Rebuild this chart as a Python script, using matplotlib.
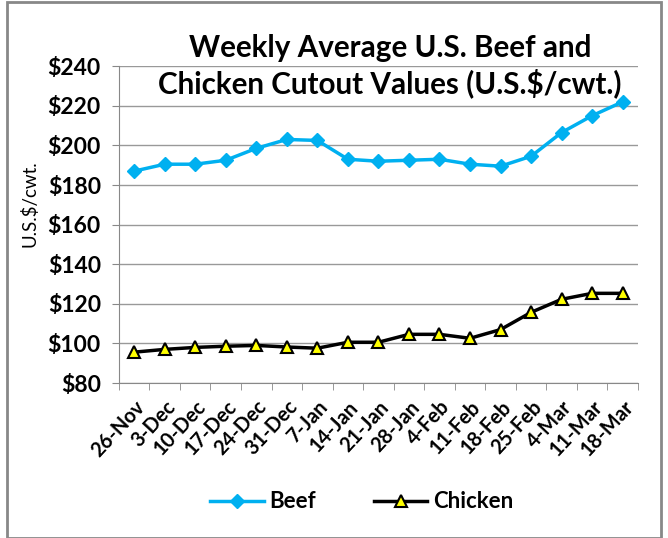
import matplotlib.pyplot as plt
import matplotlib.transforms as mtrans
import numpy as np
from matplotlib.patches import Rectangle

weeks = ["26-Nov", "3-Dec", "10-Dec", "17-Dec", "24-Dec", "31-Dec", "7-Jan",
         "14-Jan", "21-Jan", "28-Jan", "4-Feb", "11-Feb", "18-Feb", "25-Feb",
         "4-Mar", "11-Mar", "18-Mar"]
beef = [187, 190.5, 190.5, 192.5, 198.5, 203, 202.5, 193, 192, 192.5, 193,
        190.5, 189.5, 194.5, 206.5, 215, 222]
chicken = [95.6, 97, 98, 98.6, 99, 98.2, 97.6, 100.6, 100.6, 104.6, 104.6,
           102.6, 107, 115.7, 122.3, 125.3, 125.3]
yticks = [80, 100, 120, 140, 160, 180, 200, 220, 240]

plt.rcParams['font.family'] = ['Lato', 'DejaVu Sans']

fig = plt.figure(figsize=(6.68, 5.38), dpi=100)
ax = fig.add_axes([0.178, 0.288, 0.777, 0.589])

x = np.arange(len(weeks))
ax.plot(x, beef, color='#00B0F0', lw=2.5, marker='D', ms=7, label='Beef')
ax.plot(x, chicken, color='black', lw=2.5, marker='^', ms=9,
        markerfacecolor='#FFFF00', markeredgecolor='black', markeredgewidth=1.5,
        label='Chicken')

ax.set_xlim(-0.5, len(weeks) - 0.5)
ax.set_ylim(80, 240)
ax.set_yticks(yticks)
ax.set_yticklabels(['$%d' % v for v in yticks], fontsize=16.5, fontweight='bold')
ax.set_xticks(x)
ax.set_xticklabels(weeks, rotation=47, ha='right', rotation_mode='anchor',
                   fontsize=14.5, fontweight='bold')
# nudge rotated labels a little to the right, like the original
shift = mtrans.ScaledTranslation(5 / 100, 0, fig.dpi_scale_trans)
for lab in ax.get_xticklabels():
    lab.set_transform(lab.get_transform() + shift)
ax.set_xticks(np.arange(len(weeks) + 1) - 0.5, minor=True)
ax.tick_params(axis='x', which='major', length=0, pad=10)
ax.tick_params(axis='x', which='minor', length=5, color='#888888', direction='out')
ax.tick_params(axis='y', length=5, color='#888888', direction='out', pad=8)
ax.grid(axis='y', color='#999999', lw=1)
ax.set_axisbelow(True)
for s in ['top', 'right']:
    ax.spines[s].set_visible(False)
ax.spines['left'].set_color('#888888')
ax.spines['bottom'].set_color('#888888')
ax.set_ylabel('U.S.$/cwt.', fontsize=13.5)
ax.yaxis.set_label_coords(-0.155, 0.565)

fig.text(0.584, 0.877, 'Weekly Average U.S. Beef and\nChicken Cutout Values (U.S.$/cwt.)',
         ha='center', va='center', fontsize=21.3, fontweight='bold', linespacing=1.28)

fig.legend(loc='center', bbox_to_anchor=(0.542, 0.067), ncol=2, frameon=False,
           prop={'size': 16, 'weight': 'bold'}, handlelength=2.4,
           handletextpad=0.27, columnspacing=2.6)

fig.patches.append(Rectangle((0.011, 0.0), 0.978, 0.996, transform=fig.transFigure,
                             fill=False, edgecolor='#888888', lw=2))

fig.savefig('out.png', dpi=100)
